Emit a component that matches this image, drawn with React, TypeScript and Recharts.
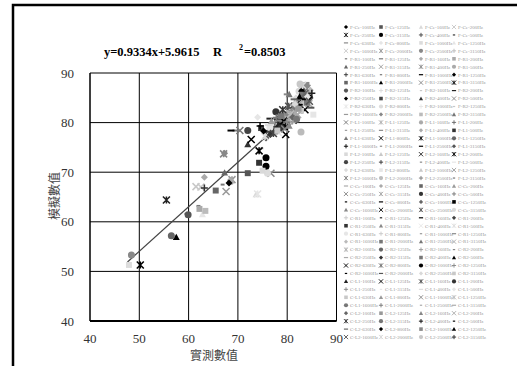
import { ScatterChart, Scatter, XAxis, YAxis, CartesianGrid, ReferenceLine } from 'recharts'

// ── Data ───────────────────────────────────────────────────
const positions = ['F-Ce', 'F-R1', 'F-R2', 'F-L1', 'F-L2', 'C-Ce', 'C-R1', 'C-R2', 'C-L1', 'C-L2']
const freqs = ['100', '125', '160', '200', '250', '315', '400', '500', '630', '800', '1000', '1250', '1600', '2000', '2500', '3150']

// 實測數值 — one row per position, 16 frequencies each
const measured = [
  84.6, 72.0, 73.7, 61.5, 55.5, 75.7, 78.5, 59.6, 80.0, 74.0, 47.9, 62.8, 62.5, 68.8, 48.4, 81.5,
  62.0, 69.6, 63.2, 62.2, 67.3, 67.6, 67.1, 68.5, 63.2, 66.9, 68.6, 68.2, 65.5, 57.5, 76.7, 50.2,
  59.9, 77.0, 74.8, 76.5, 83.4, 74.7, 72.0, 84.0, 74.0, 76.0, 79.0, 78.3, 80.5, 67.3, 63.4, 80.4,
  70.4, 84.4, 82.0, 77.5, 82.0, 78.0, 76.3, 74.3, 79.5, 79.7, 74.3, 56.5, 81.0, 79.7, 80.8, 75.7,
  75.0, 80.2, 81.2, 82.5, 72.0, 78.0, 76.8, 77.3, 81.8, 85.3, 83.0, 81.5, 80.0, 82.8, 78.8, 83.5,
  84.2, 83.8, 83.2, 82.8, 81.0, 83.0, 77.7, 79.2, 80.6, 81.5, 79.0, 79.6, 82.0, 83.6, 80.3, 82.4,
  80.7, 78.5, 77.0, 76.0, 77.5, 79.8, 78.2, 75.5, 76.5, 83.3, 77.8, 78.6, 84.7, 84.0, 81.2, 80.2,
  81.7, 83.2, 84.3, 82.2, 81.3, 76.6, 83.0, 82.5, 72.7, 83.6, 75.7, 80.9, 83.4, 84.8, 81.6, 82.8,
  78.2, 79.3, 77.2, 78.8, 79.9, 77.0, 76.2, 84.1, 78.0, 76.8, 79.5, 80.7, 78.7, 77.8, 81.4, 80.0,
  81.1, 82.3, 80.4, 82.1, 79.1, 81.9, 74.5, 82.7, 81.4, 75.2, 83.9, 82.9, 84.5, 83.1, 82.6, 85.0,
]

// 模擬數值 — same order
const simulated = [
  85.1, 69.8, 65.5, 67.1, 64.4, 71.2, 80.5, 61.6, 79.5, 81.1, 51.3, 61.5, 67.0, 68.5, 53.3, 84.0,
  63.2, 78.4, 69.0, 62.6, 69.9, 66.1, 73.7, 68.1, 66.8, 67.5, 78.4, 67.8, 66.3, 56.9, 69.8, 51.3,
  61.4, 79.5, 74.8, 80.8, 86.7, 78.9, 75.6, 86.9, 65.6, 69.8, 78.8, 82.3, 79.8, 73.8, 62.2, 85.7,
  78.4, 83.8, 84.1, 80.0, 82.6, 79.2, 77.6, 71.9, 80.5, 77.6, 74.3, 57.2, 83.0, 85.7, 81.5, 76.9,
  70.3, 82.0, 80.5, 84.2, 78.4, 80.7, 78.2, 79.0, 85.0, 81.6, 83.0, 82.2, 81.2, 78.1, 79.5, 84.8,
  86.2, 85.5, 86.0, 87.2, 81.8, 84.5, 82.2, 81.3, 80.2, 81.0, 80.0, 79.1, 83.5, 82.6, 83.3, 86.3,
  80.4, 79.8, 78.5, 78.0, 78.7, 81.4, 78.0, 77.2, 79.0, 83.9, 77.8, 80.4, 86.5, 84.0, 82.9, 80.6,
  82.0, 85.4, 85.8, 84.6, 83.5, 77.6, 85.8, 85.2, 76.6, 85.9, 72.9, 82.3, 84.7, 83.0, 83.7, 82.4,
  79.6, 80.3, 77.8, 78.9, 80.1, 80.1, 79.5, 85.2, 78.4, 80.3, 78.7, 81.7, 81.4, 81.0, 80.1, 82.1,
  81.1, 82.8, 79.3, 81.6, 82.6, 80.7, 79.3, 83.6, 84.7, 78.3, 87.6, 86.8, 84.3, 87.5, 87.8, 85.9,
]

const axisTicks = [40, 50, 60, 70, 80, 90]

// trend line as drawn
const slope = 0.9334
const intercept = 5.9615
const r2 = 0.8503
const fitStart = { x: 47.6, y: 51.9 }
const fitEnd = { x: 84.8, y: 85.3 }

// ── Styles ─────────────────────────────────────────────────
const SERIF = "'Liberation Serif', 'Times New Roman', serif"
const CJK = "'Noto Sans CJK TC', 'Noto Sans CJK SC', sans-serif"
const SHAPES = ['diamond', 'square', 'triangle', 'x', 'star', 'circle', 'plus', 'dash', 'longdash']
const GRAYS = [
  '#000000', '#555555', '#d9d9d9', '#c8c8c8', '#222222', '#000000', '#444444', '#333333',
  '#888888', '#e6e6e6', '#dcdcdc', '#e6e6e6', '#c8c8c8', '#999999', '#888888', '#bbbbbb',
  '#777777', '#777777', '#aaaaaa', '#aaaaaa', '#666666', '#999999', '#888888', '#aaaaaa',
  '#333333', '#777777', '#000000', '#000000', '#666666', '#000000', '#888888',
]

const LEG_X = [346, 381, 421, 454]
const LEG_Y0 = 27
const LEG_DY = 7.95

// ── Marker ─────────────────────────────────────────────────
function Marker({ kind, cx, cy, s, color }: { kind: string; cx: number; cy: number; s: number; color: string }) {
  const h = s / 2
  const sw = Math.max(0.8, s * 0.22)
  switch (kind) {
    case 'diamond':
      return <polygon points={`${cx},${cy - h} ${cx + h},${cy} ${cx},${cy + h} ${cx - h},${cy}`} fill={color} />
    case 'square':
      return <rect x={cx - h * 0.85} y={cy - h * 0.85} width={s * 0.85} height={s * 0.85} fill={color} />
    case 'triangle':
      return <polygon points={`${cx},${cy - h} ${cx + h},${cy + h * 0.8} ${cx - h},${cy + h * 0.8}`} fill={color} />
    case 'x':
      return <path d={`M${cx - h},${cy - h}L${cx + h},${cy + h}M${cx + h},${cy - h}L${cx - h},${cy + h}`} stroke={color} strokeWidth={sw} />
    case 'star':
      return (
        <path
          d={`M${cx - h},${cy - h}L${cx + h},${cy + h}M${cx + h},${cy - h}L${cx - h},${cy + h}M${cx},${cy - h}L${cx},${cy + h}`}
          stroke={color}
          strokeWidth={sw}
        />
      )
    case 'circle':
      return <circle cx={cx} cy={cy} r={h} fill={color} />
    case 'plus':
      return <path d={`M${cx - h},${cy}L${cx + h},${cy}M${cx},${cy - h}L${cx},${cy + h}`} stroke={color} strokeWidth={sw} />
    case 'dash':
      return <rect x={cx - s * 0.28} y={cy - s * 0.14} width={s * 0.56} height={s * 0.28} fill={color} />
    default:
      return <rect x={cx - h} y={cy - s * 0.14} width={s} height={s * 0.28} fill={color} />
  }
}

// ── Component ──────────────────────────────────────────────
export default function App() {
  const series = measured.map((x, i) => ({
    name: `${positions[Math.floor(i / 16)]}-${freqs[i % 16]}Hz`,
    kind: SHAPES[i % SHAPES.length],
    color: GRAYS[i % GRAYS.length],
    data: [{ x, y: simulated[i] }],
  }))

  return (
    <div style={{ position: 'absolute', left: 0, top: 0, width: 517, height: 366, background: '#fff', overflow: 'hidden' }}>
      <ScatterChart
        width={517}
        height={366}
        margin={{ top: 73, right: 180.5, bottom: 15, left: 50 }}
        style={{ position: 'absolute', left: 0, top: 0 }}
      >
        <CartesianGrid stroke="#000" strokeWidth={1} />
        <XAxis
          type="number"
          dataKey="x"
          domain={[40, 90]}
          ticks={axisTicks}
          height={30}
          tickLine={false}
          tickMargin={7}
          axisLine={{ stroke: '#000', strokeWidth: 2 }}
          tick={{ fontFamily: SERIF, fontSize: 13, fill: '#333' }}
        />
        <YAxis
          type="number"
          dataKey="y"
          domain={[40, 90]}
          ticks={axisTicks}
          width={40}
          tickLine={false}
          tickMargin={10}
          axisLine={{ stroke: '#000', strokeWidth: 1 }}
          tick={{ fontFamily: SERIF, fontSize: 13, fill: '#333' }}
        />
        <ReferenceLine segment={[fitStart, fitEnd]} stroke="#444" strokeWidth={1.2} ifOverflow="visible" />
        {series.map((s) => (
          <Scatter
            key={s.name}
            name={s.name}
            data={s.data}
            isAnimationActive={false}
            shape={(p: any) => <Marker kind={s.kind} cx={p.cx} cy={p.cy} s={7} color={s.color} />}
          />
        ))}
      </ScatterChart>

      <svg width={517} height={366} style={{ position: 'absolute', left: 0, top: 0, pointerEvents: 'none' }}>
        <rect x={13} y={5} width={600} height={500} fill="none" stroke="#000" strokeWidth={2.5} />

        {/* title */}
        <g fontFamily={SERIF} fontWeight="bold" fontSize={12.5} fill="#000">
          <text x={104} y={56}>{`y=${slope}x+${intercept}`}</text>
          <text x={213} y={56}>R</text>
          <text x={239} y={50} fontSize={8}>2</text>
          <text x={244} y={56}>{`=${r2}`}</text>
        </g>

        {/* axis titles */}
        <text x={214} y={360} textAnchor="middle" fontFamily={CJK} fontSize={12} fill="#444">實測數值</text>
        <text
          x={53}
          y={196}
          textAnchor="middle"
          dominantBaseline="central"
          transform="rotate(-90 53 196)"
          fontFamily={CJK}
          fontSize={12}
          fill="#444"
        >
          模擬數值
        </text>

        {/* legend */}
        {series.map((s, i) => {
          const col = i % 4
          const row = Math.floor(i / 4)
          const y = LEG_Y0 + row * LEG_DY
          return (
            <g key={s.name}>
              <Marker kind={s.kind} cx={LEG_X[col]} cy={y} s={4.2} color={s.color} />
              <text x={LEG_X[col] + 4} y={y + 1.8} fontFamily={SERIF} fontSize={5} fill="#999">
                {s.name}
              </text>
            </g>
          )
        })}
      </svg>
    </div>
  )
}
